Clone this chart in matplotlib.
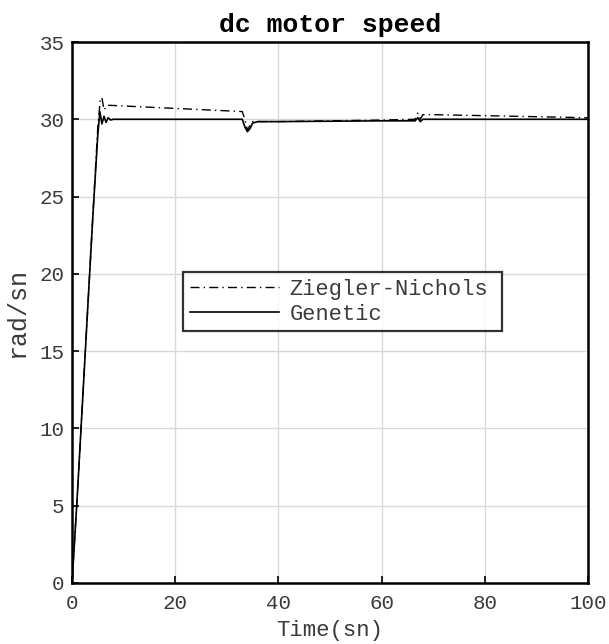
import matplotlib
matplotlib.use("Agg")
import matplotlib.pyplot as plt

# Genetic controller response
t_gen = [0, 1, 2, 3, 4, 5, 5.4, 5.8, 6.2, 6.6, 7, 7.5, 8, 33, 33.5, 34, 34.5, 35, 36, 40, 60, 66.5, 67, 67.5, 68, 70, 100]
y_gen = [0, 5.5, 11.5, 17.5, 23.5, 29, 30.5, 29.7, 30.2, 29.8, 30.1, 29.95, 30, 30, 29.5, 29.2, 29.4, 29.75, 29.85, 29.85, 29.9, 29.9, 30.1, 29.85, 30, 30, 30]

# Ziegler-Nichols controller response
t_zn = [0, 1, 2, 3, 4, 5, 5.5, 5.8, 6.2, 6.8, 7.5, 33, 33.5, 34, 34.5, 35, 36, 40, 60, 66.5, 67, 67.5, 68, 70, 100]
y_zn = [0, 5.5, 11.5, 17.5, 23.5, 29.5, 31.35, 31.4, 30.6, 30.9, 30.9, 30.5, 30.0, 29.3, 29.6, 29.85, 29.85, 29.85, 29.95, 30.0, 30.4, 30.0, 30.3, 30.3, 30.1]

xticks = [0, 20, 40, 60, 80, 100]
yticks = [0, 5, 10, 15, 20, 25, 30, 35]

plt.rcParams['font.family'] = ['Liberation Mono', 'DejaVu Sans Mono']
txt = '#3a3a3a'

fig = plt.figure(figsize=(6.09, 6.44), dpi=100)
ax = fig.add_axes([72/609, 1-583/644, 516/609, 541/644])

ax.plot(t_zn, y_zn, color='black', linestyle=(0, (6.5, 3, 1, 3)), linewidth=1.0, label='Ziegler-Nichols')
ax.plot(t_gen, y_gen, color='black', linestyle='-', linewidth=1.2, label='Genetic')

ax.set_xlim(0, 100)
ax.set_ylim(0, 35)
ax.set_xticks(xticks)
ax.set_yticks(yticks)
ax.grid(True, color='#d9d9d9', linewidth=1.0)
ax.set_axisbelow(True)
ax.tick_params(direction='in', length=5, width=1.2, labelsize=15, color='black', labelcolor=txt)
ax.tick_params(axis='x', pad=8)
ax.tick_params(axis='y', pad=5.5)
for s in ax.spines.values():
    s.set_linewidth(1.8)
    s.set_color('black')

ax.set_xlabel('Time(sn)', fontsize=16, color=txt)
ax.set_ylabel('rad/sn', fontsize=18, color=txt)
ax.xaxis.set_label_coords(0.5, -0.068)
ax.yaxis.set_label_coords(-0.083, 0.5)
ax.set_title('dc motor speed', fontsize=19, fontweight='bold', pad=7.2, color='black')

leg = ax.legend(loc='upper left', bbox_to_anchor=(0.215, 0.575, 0.618, 0.0), mode='expand',
                fontsize=15.8, frameon=True, fancybox=False, handlelength=4.1,
                borderpad=0.3, labelspacing=0.2, handletextpad=0.45, borderaxespad=0)
leg.get_frame().set_edgecolor('black')
leg.get_frame().set_linewidth(1.6)
for t in leg.get_texts():
    t.set_color(txt)

fig.savefig('out.png', dpi=100)
